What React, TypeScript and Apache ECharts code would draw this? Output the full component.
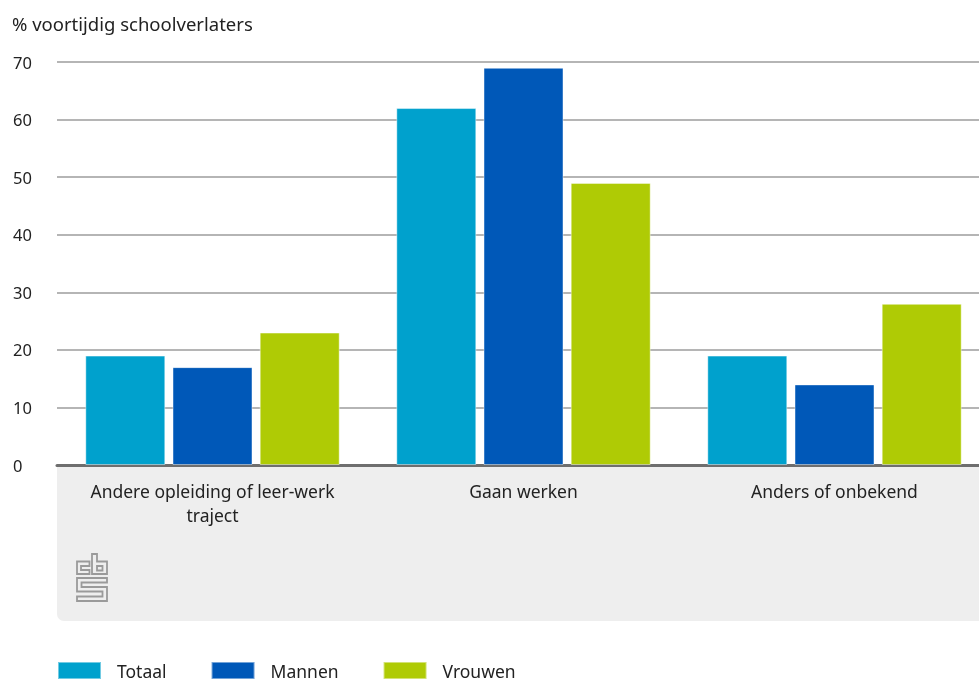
import React, { useEffect, useRef } from "react";
import * as echarts from "echarts";

const categories = ["Andere opleiding of leer-werk\ntraject", "Gaan werken", "Anders of onbekend"];
const totaal = [19, 62, 19];
const mannen = [17, 69, 14];
const vrouwen = [23, 49, 28];
const seriesNames = ["Totaal", "Mannen", "Vrouwen"];
const colors = ["#00a1cd", "#0058b8", "#afcb05"];
const yTicks = { min: 0, max: 70, interval: 10 };
const yTitle = "% voortijdig schoolverlaters";

const logoPath =
  "M15 0 L20 0 L20 7.5 L30 7.5 L30 20 L15 20 Z " +
  "M20 12 L25.5 12 L25.5 16.5 L20 16.5 Z " +
  "M0 7.5 L12.5 7.5 L12.5 12 L4 12 L4 16 L12.5 16 L12.5 20 L0 20 Z " +
  "M0 24 L30 24 L30 28.5 L4.5 28.5 L4.5 33 L30 33 L30 47 L0 47 L0 42.5 L25.5 42.5 L25.5 37.5 L0 37.5 Z";

let registered = false;

export default function App() {
  const ref = useRef<HTMLDivElement>(null);
  useEffect(() => {
    if (!ref.current) return;
    if (!registered) {
      echarts.graphic.registerShape("logo", echarts.graphic.extendPath(logoPath, {}));
      registered = true;
    }
    const chart = echarts.init(ref.current, undefined, { renderer: "svg" });
    const font = "'Noto Sans', sans-serif";
    const data = [totaal, mannen, vrouwen];
    chart.setOption({
      animation: false,
      textStyle: { fontFamily: font },
      title: {
        text: yTitle,
        left: 12,
        top: 14,
        padding: 0,
        textStyle: { fontSize: 18.5, fontWeight: "normal", color: "#222", fontFamily: font },
      },
      legend: {
        left: 57,
        top: 661,
        padding: 0,
        itemWidth: 43,
        itemHeight: 17,
        itemGap: 44,
        icon: "rect",
        data: seriesNames,
        textStyle: { fontSize: 17.5, lineHeight: 17, color: "#222", padding: [0, 0, 0, 11], fontFamily: font },
      },
      grid: { left: 57, top: 62, width: 933, bottom: 216, containLabel: false, outerBoundsMode: "none" },
      graphic: [
        {
          type: "rect",
          z: -10,
          silent: true,
          shape: { x: 57, y: 465, width: 930, height: 156, r: [0, 0, 0, 7] },
          style: { fill: "#eeeeee" },
        },
        {
          type: "logo",
          x: 77,
          y: 554,
          z: -5,
          silent: true,
          style: { fill: "none", stroke: "#9a9a9a", lineWidth: 1.8 },
        },
      ],
      xAxis: {
        type: "category",
        data: categories,
        axisTick: { show: false },
        axisLine: { lineStyle: { color: "#6e6e6e", width: 3 } },
        axisLabel: { fontSize: 17.5, color: "#222", margin: 14, lineHeight: 24, interval: 0, fontFamily: font },
      },
      yAxis: {
        type: "value",
        min: yTicks.min,
        max: yTicks.max,
        interval: yTicks.interval,
        axisLine: { show: false },
        axisTick: { show: false },
        splitLine: { lineStyle: { color: "#9d9d9d", width: 1.5 } },
        axisLabel: { fontSize: 16.5, color: "#222", align: "left", margin: 44, fontFamily: font },
      },
      series: seriesNames.map((name, i) => ({
        name,
        type: "bar",
        data: data[i],
        barWidth: 80,
        barGap: "9%",
        itemStyle: { color: colors[i], borderColor: "rgba(255,255,255,0.45)", borderWidth: 1 },
      })),
    });
    return () => chart.dispose();
  }, []);
  return <div ref={ref} style={{ position: "fixed", left: 0, top: 0, width: 979, height: 681 }} />;
}
